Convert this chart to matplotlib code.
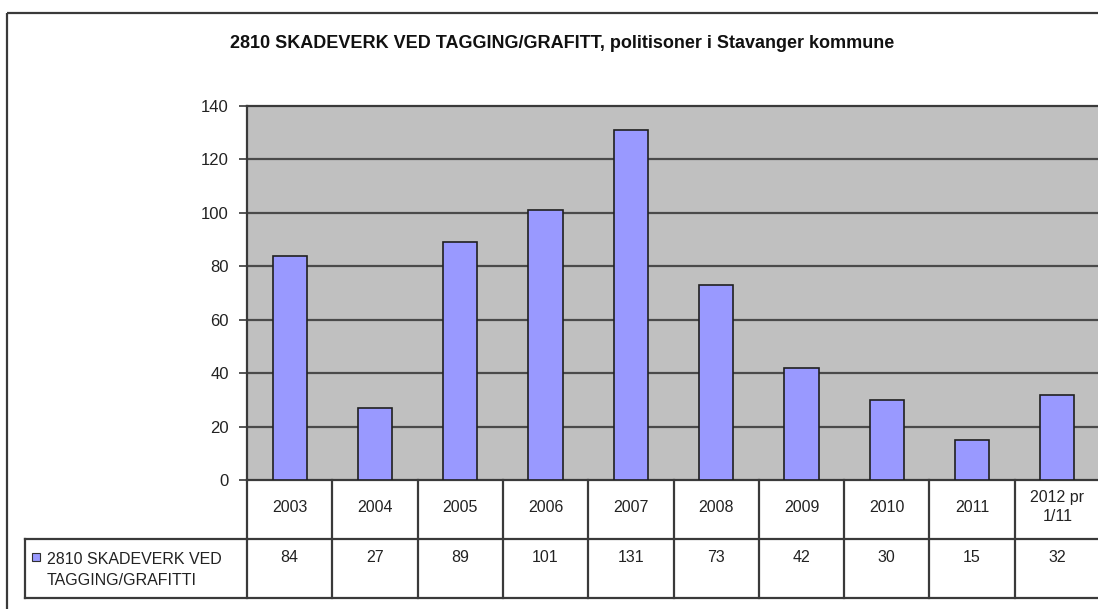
import numpy as np
import matplotlib
matplotlib.use('Agg')
import matplotlib.pyplot as plt
from matplotlib.patches import Rectangle

# data
categories = ['2003', '2004', '2005', '2006', '2007', '2008', '2009', '2010', '2011', '2012 pr\n1/11']
values = [84, 27, 89, 101, 131, 73, 42, 30, 15, 32]
series_name = '2810 SKADEVERK VED\nTAGGING/GRAFITTI'
title = '2810 SKADEVERK VED TAGGING/GRAFITT, politisoner i Stavanger kommune'
yticks = [0, 20, 40, 60, 80, 100, 120, 140]

W, H = 1098, 609
plt.rcParams['font.family'] = ['Liberation Sans', 'DejaVu Sans']

fig = plt.figure(figsize=(W / 100, H / 100), dpi=100)
fig.patch.set_facecolor('white')

# plot area in pixels
px_left, px_right, px_top, px_zero = 247, 1100, 106, 480
ax = fig.add_axes([px_left / W, (H - px_zero) / H,
                   (px_right - px_left) / W, (px_zero - px_top) / H])
ax.set_facecolor('#c0c0c0')
x = np.arange(len(values))
ax.bar(x, values, width=0.4, color='#9999ff', edgecolor='#202020', linewidth=1.2, zorder=3)
ax.set_xlim(-0.5, len(values) - 0.5)
ax.set_ylim(0, 140)
ax.set_yticks(yticks)
ax.set_yticklabels([str(v) for v in yticks], fontsize=12, color='#222222')
ax.set_xticks([])
for v in yticks[1:-1]:
    ax.axhline(v, color='#4a4a4a', lw=1.6, zorder=1)
for s in ['top', 'left', 'bottom']:
    ax.spines[s].set_color('#3a3a3a')
    ax.spines[s].set_linewidth(1.6)
ax.spines['right'].set_visible(False)
ax.tick_params(axis='y', direction='out', length=6, width=1.2, color='#3a3a3a', pad=7)

# overlay in pixel coords for frame, title and data table
ov = fig.add_axes([0, 0, 1, 1], zorder=5)
ov.set_xlim(0, W)
ov.set_ylim(H, 0)
ov.axis('off')
ov.patch.set_alpha(0)

ov.add_patch(Rectangle((7, 13), W + 20, H + 20, fill=False, edgecolor='#3a3a3a', lw=1.6))
ov.text(562, 43, title, ha='center', va='center', fontsize=13, fontweight='bold', color='#111111')

col_w = (px_right - px_left) / len(values)
row1_bot, row2_bot, lab_left = 539, 598, 25
lc = '#3a3a3a'
ov.plot([px_left, px_right + 10], [row1_bot, row1_bot], color=lc, lw=1.6)
ov.plot([lab_left, px_right + 10], [row2_bot, row2_bot], color=lc, lw=1.6)
ov.plot([lab_left, lab_left], [row1_bot, row2_bot], color=lc, lw=1.6)
ov.plot([lab_left, px_left], [row1_bot, row1_bot], color=lc, lw=1.6)
for i in range(len(values) + 1):
    xb = px_left + i * col_w
    ov.plot([xb, xb], [px_zero, row2_bot], color=lc, lw=1.6)

for i, (c, v) in enumerate(zip(categories, values)):
    xc = px_left + (i + 0.5) * col_w
    ov.text(xc, 507, c, ha='center', va='center', fontsize=11.5, color='#222222', linespacing=1.35)
    ov.text(xc, 557, str(v), ha='center', va='center', fontsize=11.5, color='#222222')

ov.add_patch(Rectangle((32, 553), 8, 8, facecolor='#9999ff', edgecolor='#303030', lw=0.8))
ov.text(47, 570, series_name, ha='left', va='center', fontsize=11.5, color='#222222', linespacing=1.45)

fig.savefig('out.png', dpi=100)
